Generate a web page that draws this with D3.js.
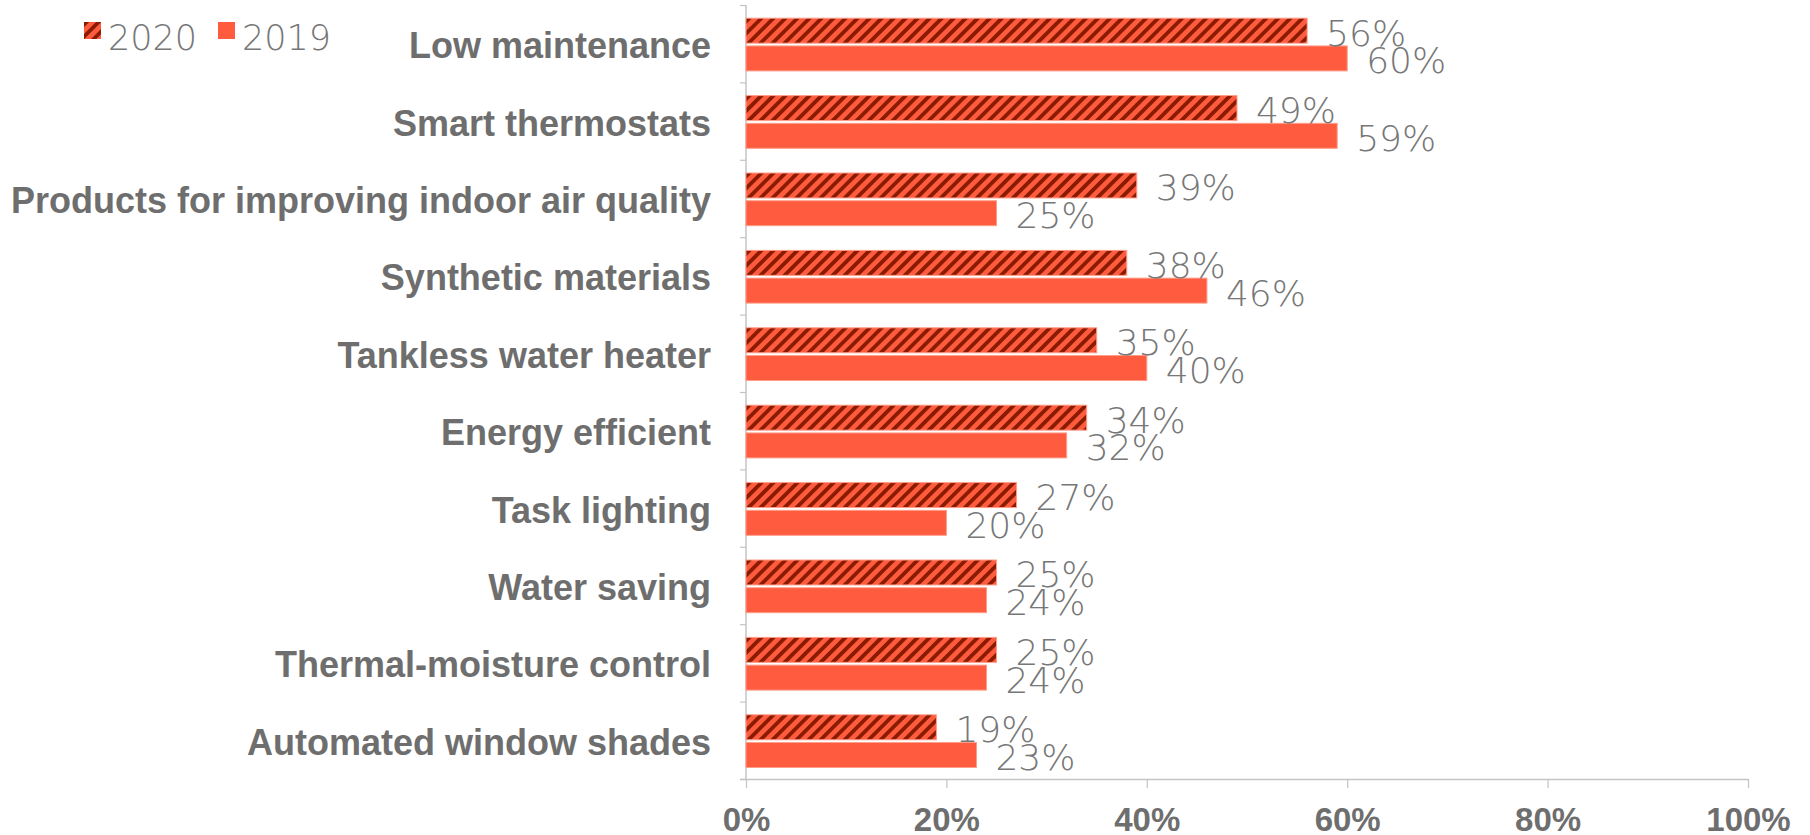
<!DOCTYPE html>
<html>
<head>
<meta charset="utf-8">
<script src="https://cdn.jsdelivr.net/npm/d3@7/dist/d3.min.js"></script>
<style>
  html, body { margin: 0; padding: 0; background: #ffffff; }
  svg { display: block; }
</style>
</head>
<body>
<svg id="chart" width="1810" height="835"></svg>
<script>
// Features homeowners asked for, share of respondents by survey year
const categories = [
  "Low maintenance",
  "Smart thermostats",
  "Products for improving indoor air quality",
  "Synthetic materials",
  "Tankless water heater",
  "Energy efficient",
  "Task lighting",
  "Water saving",
  "Thermal-moisture control",
  "Automated window shades"
];
const seriesNames = ["2020", "2019"];
const values2020 = [0.56, 0.49, 0.39, 0.38, 0.35, 0.34, 0.27, 0.25, 0.25, 0.19];
const values2019 = [0.60, 0.59, 0.25, 0.46, 0.40, 0.32, 0.20, 0.24, 0.24, 0.23];
const xTicks = [0, 0.2, 0.4, 0.6, 0.8, 1.0];

const W = 1810, H = 835;
const margin = { top: 5, right: 62, bottom: 56, left: 746 };

const svg = d3.select("#chart");

const textGrey = "#6e6e6e";
const axisGrey = "#c4c4c4";
const orange = "#ff5b3e";
const darkStripe = "#8a1a00";

// Diagonal hatch used for the 2020 series
const defs = svg.append("defs");
const pat = defs.append("pattern")
  .attr("id", "hatch2020")
  .attr("patternUnits", "userSpaceOnUse")
  .attr("width", 8.5)
  .attr("height", 8.5)
  .attr("patternTransform", "rotate(45)");
pat.append("rect").attr("width", 8.5).attr("height", 8.5).attr("fill", orange);
pat.append("rect").attr("x", 0).attr("y", 0).attr("width", 3.8).attr("height", 8.5).attr("fill", darkStripe);

const fills = { "2020": "url(#hatch2020)", "2019": orange };

const x = d3.scaleLinear()
  .domain([0, 1])
  .range([margin.left, W - margin.right]);

const y = d3.scaleBand()
  .domain(categories)
  .range([margin.top, H - margin.bottom])
  .padding(0);

// two bars per category, centred a little below the band middle
const ySub = d3.scaleBand()
  .domain(seriesNames)
  .range([-25.5, 27.2])
  .paddingInner(0.1);

const rows = categories.map((c, i) => ({
  category: c,
  bars: [
    { series: "2020", value: values2020[i] },
    { series: "2019", value: values2019[i] }
  ]
}));

// bottom value axis
const xAxis = d3.axisBottom(x)
  .tickValues(xTicks)
  .tickSize(9)
  .tickPadding(0)
  .tickFormat(d3.format(".0%"));

const gx = svg.append("g")
  .attr("transform", `translate(0,${H - margin.bottom})`)
  .call(xAxis);
gx.select(".domain").attr("stroke", axisGrey).attr("stroke-width", 1.5)
  .attr("d", `M${margin.left - 6},0.5H${W - margin.right}`);
gx.selectAll(".tick line").attr("stroke", axisGrey).attr("stroke-width", 1.2);
gx.selectAll(".tick text")
  .attr("y", 52)
  .attr("dy", null)
  .attr("fill", textGrey)
  .style("font-family", "'Liberation Sans', Arial, sans-serif")
  .style("font-weight", "bold")
  .style("font-size", "33px");

// left category axis: line with ticks at band boundaries
const gy = svg.append("g");
gy.append("line")
  .attr("x1", margin.left).attr("x2", margin.left)
  .attr("y1", y.range()[0]).attr("y2", y.range()[1])
  .attr("stroke", axisGrey).attr("stroke-width", 1.5);
const boundaries = categories.map(c => y(c)).concat([y.range()[1]]);
gy.selectAll("line.tick")
  .data(boundaries)
  .join("line")
  .attr("class", "tick")
  .attr("x1", margin.left - 6).attr("x2", margin.left)
  .attr("y1", d => d + 0.5).attr("y2", d => d + 0.5)
  .attr("stroke", axisGrey).attr("stroke-width", 1.2);

gy.selectAll("text.cat")
  .data(categories)
  .join("text")
  .attr("class", "cat")
  .attr("x", margin.left - 35)
  .attr("y", d => y(d) + y.bandwidth() / 2 + 14.5)
  .attr("text-anchor", "end")
  .attr("fill", textGrey)
  .style("font-family", "'Liberation Sans', Arial, sans-serif")
  .style("font-weight", "bold")
  .style("font-size", "36px")
  .text(d => d);

// bars
const groups = svg.append("g").selectAll("g.row")
  .data(rows)
  .join("g")
  .attr("class", "row")
  .attr("transform", d => `translate(0,${y(d.category) + y.bandwidth() / 2})`);

groups.selectAll("rect")
  .data(d => d.bars)
  .join("rect")
  .attr("x", x(0))
  .attr("y", d => ySub(d.series))
  .attr("width", d => x(d.value) - x(0))
  .attr("height", ySub.bandwidth())
  .attr("fill", d => fills[d.series])
  .attr("stroke", "#ff9c88")
  .attr("stroke-width", 1);

// value labels
const labelFont = "'DejaVu Sans', 'Noto Sans', sans-serif";
groups.selectAll("text.val")
  .data(d => d.bars)
  .join("text")
  .attr("class", "val")
  .attr("x", d => x(d.value) + 19)
  .attr("y", d => ySub(d.series) + ySub.bandwidth() + 2.5)
  .attr("fill", "#777777")
  .style("font-family", labelFont)
  .style("font-weight", 200)
  .style("font-size", "36px")
  .text(d => d3.format(".0%")(d.value));

// legend
const legend = svg.append("g").attr("transform", "translate(84,22)");
const legendItems = legend.selectAll("g")
  .data(seriesNames)
  .join("g")
  .attr("transform", (d, i) => `translate(${i * 134},0)`);
legendItems.append("rect")
  .attr("width", 17).attr("height", 17)
  .attr("fill", d => fills[d]);
legendItems.append("text")
  .attr("x", 24)
  .attr("y", 27.5)
  .attr("fill", "#777777")
  .style("font-family", labelFont)
  .style("font-weight", 200)
  .style("font-size", "35px")
  .text(d => d);
</script>
</body>
</html>
